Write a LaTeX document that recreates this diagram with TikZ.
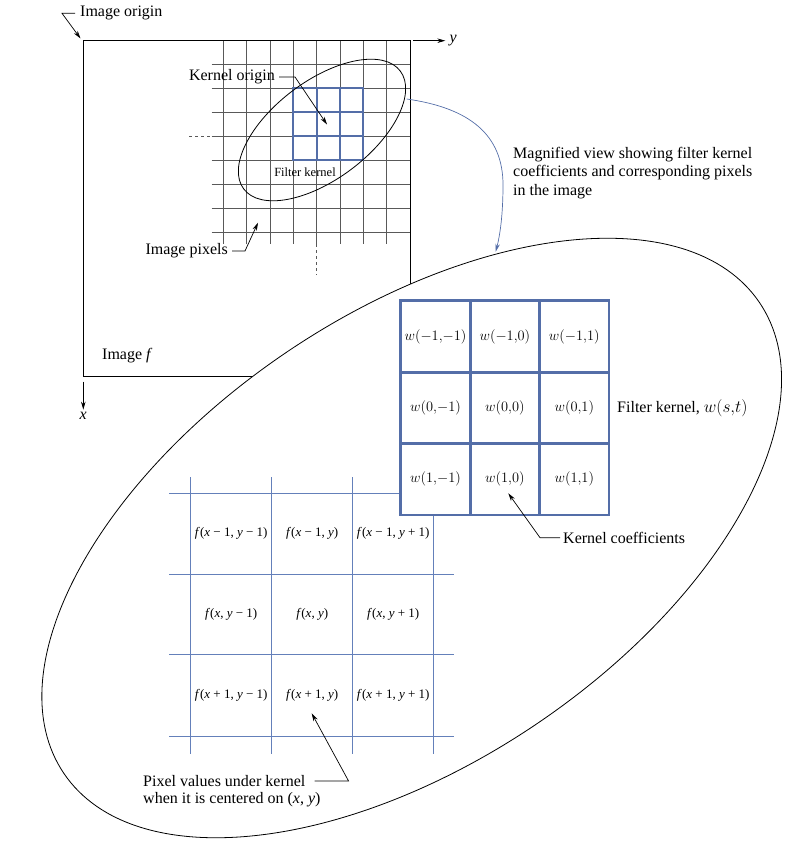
\documentclass[tikz,border=0pt]{standalone}
\usepackage{fontspec}
\setmainfont{Liberation Serif}
\usepackage{tikz}
\usetikzlibrary{arrows.meta, positioning, shapes.geometric}
\definecolor{kblue}{RGB}{84,110,168}
\definecolor{gblue}{RGB}{100,128,186}
\newcommand{\fval}[2]{\textit{f}(\textit{x}#1, \textit{y}#2)}

\tikzset{
  lbl/.style={font=\fontsize{16}{18.3}\selectfont, inner sep=1pt},
  pix/.style={draw=black!65, line width=0.55pt},
  kern/.style={draw=kblue, line width=1.8pt},
  kcell/.style={draw=kblue, line width=2.7pt, fill=white, minimum width=69.4pt,
    minimum height=71.4pt, inner sep=0pt, font=\fontsize{14}{16}\selectfont},
  fcell/.style={inner sep=0pt, font=\fontsize{13}{15}\selectfont},
  fline/.style={draw=gblue, line width=1pt},
  lead/.style={line width=0.7pt},
}

\begin{document}
\begin{tikzpicture}[x=1pt, y=-1pt, >={Stealth[length=8pt,width=4.5pt]}]
    \useasboundingbox (0,0) rectangle (800,843);

    % Image f and its axes
    \draw[line width=0.8pt] (83.3,40.7) rectangle (410,376);
    \coordinate (yaxis) at (413.3,40.7);
    \coordinate (xaxis) at (83.3,381.7);
    \draw[->, lead] (yaxis) -- ++(32,0) node[right, lbl, inner sep=4pt] (ylab) {\textit{y}};
    \draw[->, lead] (xaxis) -- ++(0,28) node[below, lbl, inner sep=2pt] (xlab) {\textit{x}};

    % Image pixels
    \foreach \i in {0,...,7}
        \draw[pix] ({223.3+23.33*\i},40.7) -- ({223.3+23.33*\i},244.3);
    \foreach \j in {0,...,7}
        \draw[pix] (211.7,{64.3+24*\j}) -- (410,{64.3+24*\j});
    \draw[pix, dashed] (189,136.3) -- (211.7,136.3);
    \draw[pix, dashed] (316.7,244.3) -- (316.7,275);

    % Filter kernel on the image
    \draw[kern] (293.3,88.3) rectangle (363.3,160.3);
    \draw[kern] (316.6,88.3) -- (316.6,160.3) (340,88.3) -- (340,160.3);
    \draw[kern] (293.3,112.3) -- (363.3,112.3) (293.3,136.3) -- (363.3,136.3);
    \node[draw, ellipse, line width=0.8pt, minimum width=196pt, minimum height=98pt,
        inner sep=0pt, rotate=37] (window) at (322,130) {};
    \node[inner sep=0pt, font=\fontsize{12.5}{14}\selectfont] (kname) at (305,172.7) {Filter kernel};

    % Magnified view
    \node[draw, ellipse, fill=white, line width=0.8pt, minimum width=840pt,
        minimum height=448pt, inner sep=0pt, rotate=34.1] (magview) at (411.7,538) {};

    % Pixels under the kernel
    \foreach \x in {190.7,271.7,352.7,433.7}
        \draw[fline] (\x,477.3) -- (\x,754);
    \foreach \y in {493.3,574.3,654.7,736}
        \draw[fline] (169.3,\y) -- (454,\y);
    \foreach \r/\c/\t in {-1/-1/{\fval{~−~1}{~−~1}}, -1/0/{\fval{~−~1}{}}, -1/1/{\fval{~−~1}{~+~1}},
        0/-1/{\fval{}{~−~1}}, 0/0/{\fval{}{}}, 0/1/{\fval{}{~+~1}},
        1/-1/{\fval{~+~1}{~−~1}}, 1/0/{\fval{~+~1}{}}, 1/1/{\fval{~+~1}{~+~1}}}
        \node[fcell] (f\r\c) at ({312.2+81*\c},{614.5+81*\r}) {\t};

    % Kernel coefficients
    \foreach \r in {-1,0,1}
        \foreach \c in {-1,0,1}
            \node[kcell] (w\r\c) at ({504.9+69.4*\c},{407.9+71.4*\r}) {$w(\r{,}{\c})$};

    % Labels
    \node[lbl, anchor=west] (origin) at (79,13.3) {Image origin};
    \node[lbl, anchor=east] (korig) at (276,77) {Kernel origin};
    \node[lbl, anchor=east] (pixels) at (229,251) {Image pixels};
    \node[lbl, anchor=west] (imgf) at (101,356) {Image \textit{f}};
    \node[lbl, anchor=north west, align=left] (magtxt) at (512,146)
        {Magnified view showing filter kernel\\coefficients and corresponding pixels\\in the image};
    \node[lbl, anchor=west] (wname) at (616,408) {Filter kernel, $w(s{,}t)$};
    \node[lbl, anchor=west] (coef) at (562,537.7) {Kernel coefficients};
    \node[lbl, anchor=west] (pixval1) at (142,781) {Pixel values under kernel};
    \node[lbl, anchor=west] (pixval2) at (142,800) {when it is centered on (\textit{x}, \textit{y})};

    % Leaders
    \coordinate (imgcorner) at (80.5,38.5);
    \coordinate (korigin) at (327,124.5);
    \coordinate (pixpt) at (258,222.7);
    \coordinate (coefpt) at (508.3,493.3);
    \coordinate (fpt) at (311.7,713.3);
    \coordinate (zoomfrom) at (406.7,99);
    \coordinate (zoomto) at (495.7,251.7);
    \draw[->, lead, shorten <=4pt] (origin.west) -- ++(-17,0) -- (imgcorner);
    \draw[->, lead, shorten <=3pt] (korig.east) -- ++(19,0) -- (korigin);
    \draw[->, lead, shorten <=3pt] (pixels.east) -- ++(16,0) -- (pixpt);
    \draw[->, lead, shorten <=2pt] (coef.west) -- ++(-22,0) -- (coefpt);
    \draw[->, lead, shorten <=8pt] (pixval1.east) -- ++(42,0) -- (fpt);
    \draw[->, draw=kblue, line width=0.7pt] (zoomfrom) .. controls (470,108) and (503,135) .. (503,185)
        .. controls (503,215) and (500,235) .. (zoomto);
\end{tikzpicture}
\end{document}
